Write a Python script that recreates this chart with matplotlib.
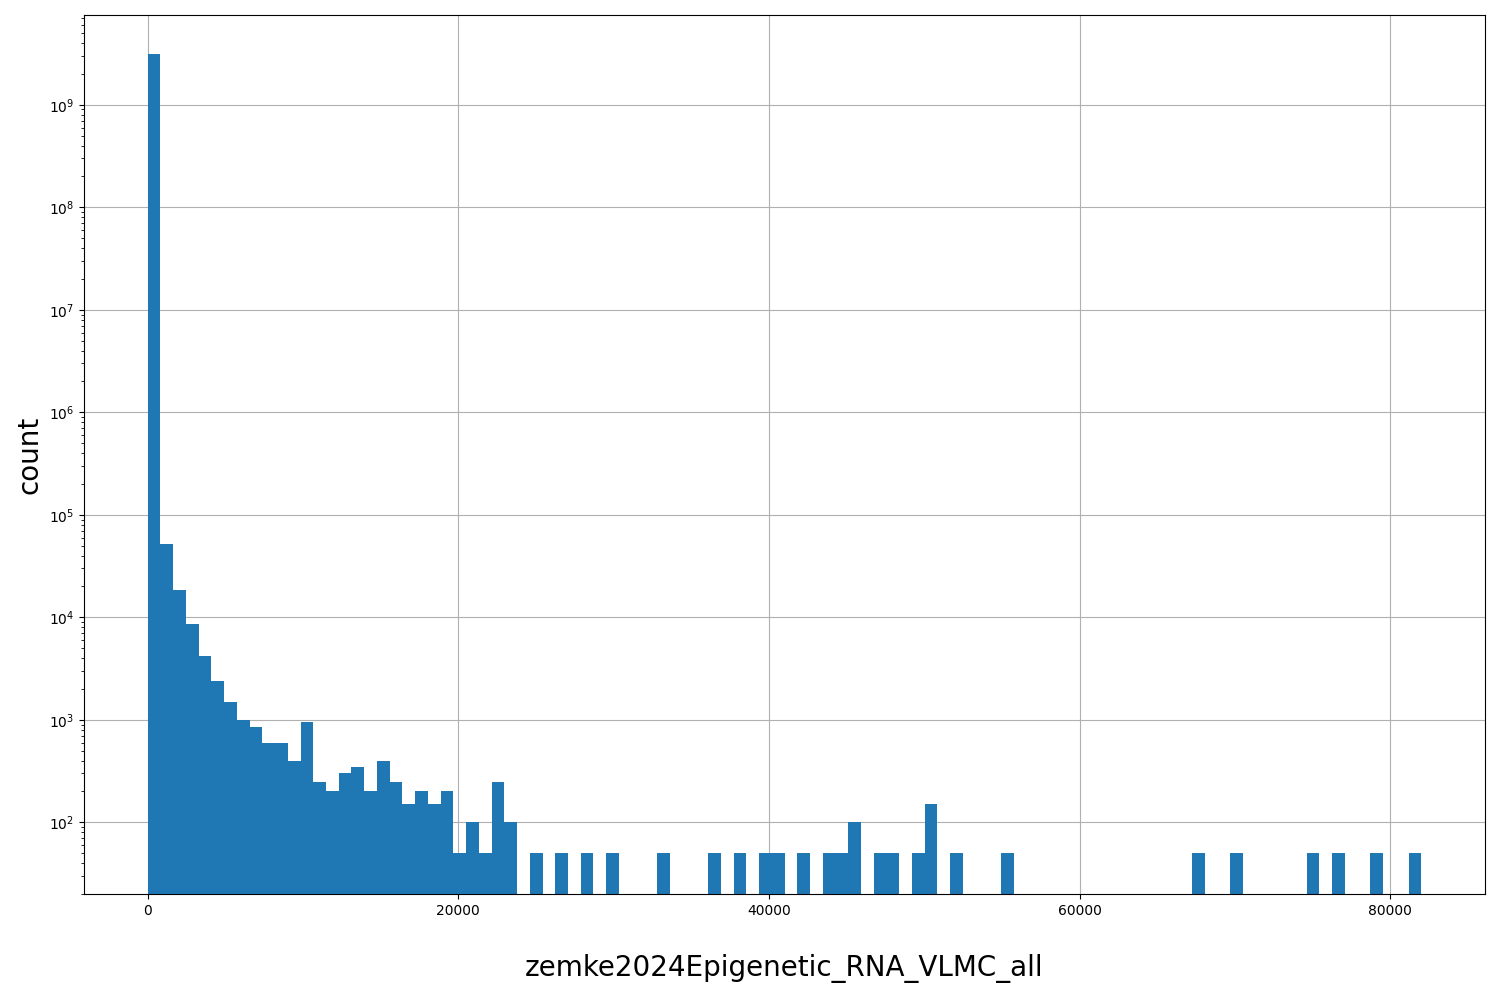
import matplotlib
matplotlib.use("Agg")
import matplotlib.pyplot as plt
import numpy as np

x_min, x_max, n_bins = 0, 82000, 100
counts_map = {0: 3.1e9, 1: 5.2e4, 2: 1.85e4, 3: 8.7e3, 4: 4.2e3, 5: 2.4e3, 6: 1.5e3,
              7: 1000, 8: 850, 9: 600, 10: 600, 11: 400, 12: 950, 13: 250, 14: 200,
              15: 300, 16: 350, 17: 200, 18: 400, 19: 250, 20: 150, 21: 200, 22: 150,
              23: 200, 24: 50, 25: 100, 26: 50, 27: 250, 28: 100, 30: 50, 32: 50,
              34: 50, 36: 50, 40: 50, 44: 50, 46: 50, 48: 50, 49: 50, 51: 50, 53: 50,
              54: 50, 55: 100, 57: 50, 58: 50, 60: 50, 61: 150, 63: 50, 67: 50,
              82: 50, 85: 50, 91: 50, 93: 50, 96: 50, 99: 50}

edges = np.linspace(x_min, x_max, n_bins + 1)
centers = (edges[:-1] + edges[1:]) / 2
counts = np.array([counts_map.get(i, 0) for i in range(n_bins)])

fig = plt.figure(figsize=(15, 10), dpi=100)
ax = fig.add_axes([0.056, 0.106, 0.934, 0.879])
ax.hist(centers, bins=edges, weights=counts, color="#1f77b4")
ax.set_yscale("log")
ax.set_ylim(20, 10**9.876)
ax.grid(True)
ax.set_axisbelow(True)
ax.set_xlabel("zemke2024Epigenetic_RNA_VLMC_all", fontsize=20, labelpad=26)
ax.set_ylabel("count", fontsize=20)
fig.savefig("out.png")
